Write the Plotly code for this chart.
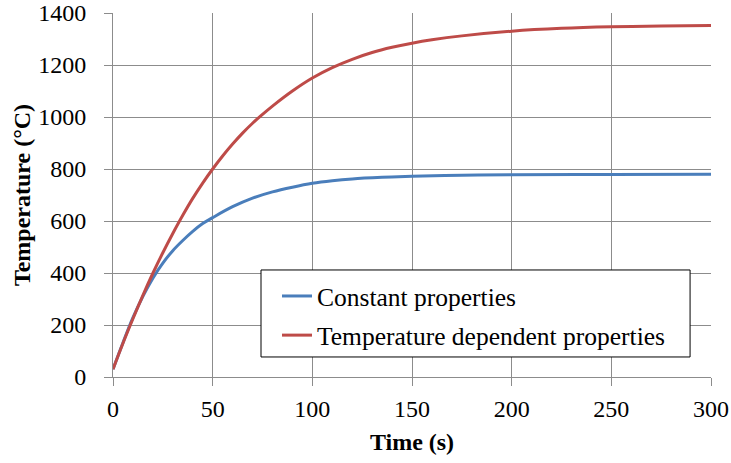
import plotly.graph_objects as go

# time (s) / temperature (°C)
time_const = [0, 5, 10, 15, 20, 25, 30, 35, 40, 45, 50, 60, 70, 80, 90, 100,
              110, 120, 135, 150, 175, 200, 250, 300]
temp_const = [30, 132, 228, 310, 380, 438, 486, 525, 560, 590, 613, 655, 688,
              712, 730, 745, 755, 762, 768, 772, 776, 778, 779, 780]

time_dep = [0, 5, 10, 15, 20, 25, 30, 35, 40, 45, 50, 55, 60, 65, 70, 75, 80,
            90, 100, 110, 120, 130, 140, 150, 160, 175, 200, 225, 250, 275, 300]
temp_dep = [30, 130, 224, 314, 399, 478, 552, 622, 687, 746, 800, 850, 896,
            938, 976, 1010, 1042, 1100, 1150, 1190, 1222, 1248, 1268, 1284,
            1297, 1312, 1330, 1341, 1347, 1350, 1352]

blue = '#4a7ebb'
red = '#be4b48'
grid = '#8c8c8c'
font = 'Liberation Serif, Times New Roman, serif'

fig = go.Figure()

fig.add_trace(go.Scatter(
    x=time_const, y=temp_const, mode='lines',
    line=dict(color=blue, width=3, shape='spline'),
    name='Constant properties', legendgroup='const'
))
fig.add_trace(go.Scatter(
    x=time_dep, y=temp_dep, mode='lines',
    line=dict(color=red, width=3, shape='spline'),
    name='Temperature dependent properties', legendgroup='dep'
))

# legend frame drawn as a white box so it can be sized like the original
fig.add_shape(
    type='rect', xref='paper', yref='paper',
    x0=0.2475, x1=0.965, y0=0.055, y1=0.294,
    fillcolor='white', line=dict(color='black', width=1), layer='above'
)

fig.update_layout(
    width=731, height=463,
    margin=dict(l=113, r=20, t=13, b=86),
    paper_bgcolor='white', plot_bgcolor='white',
    font=dict(family=font, size=24, color='black'),
    showlegend=True,
    legend=dict(
        x=0.2475, y=0.286, xanchor='left', yanchor='top',
        bgcolor='rgba(0,0,0,0)', borderwidth=0,
        font=dict(family=font, size=25.5, color='black'),
        itemwidth=30, indentation=16, tracegroupgap=3,
    ),
    xaxis=dict(
        range=[0, 300], dtick=50, tick0=0,
        showgrid=True, gridcolor=grid, gridwidth=1,
        showline=True, linecolor=grid, linewidth=1,
        ticks='outside', ticklen=8, tickcolor=grid,
        ticklabelstandoff=2, automargin=False,
        zeroline=False,
        title=dict(text='<b>Time (s)</b>', standoff=12,
                   font=dict(family=font, size=24)),
    ),
    yaxis=dict(
        range=[0, 1400], dtick=200, tick0=0,
        showgrid=True, gridcolor=grid, gridwidth=1,
        showline=True, linecolor=grid, linewidth=1,
        ticks='outside', ticklen=8, tickcolor=grid,
        ticklabelstandoff=13, automargin=False,
        zeroline=False,
        title=dict(text='<b>Temperature (°C)</b>', standoff=0,
                   font=dict(family=font, size=24)),
    ),
)

# the page body has a default 8px margin; drop it so the figure sits at 0,0
fig.write_html("out.html", config={'displayModeBar': False},
               post_script="document.body.style.margin='0';")
